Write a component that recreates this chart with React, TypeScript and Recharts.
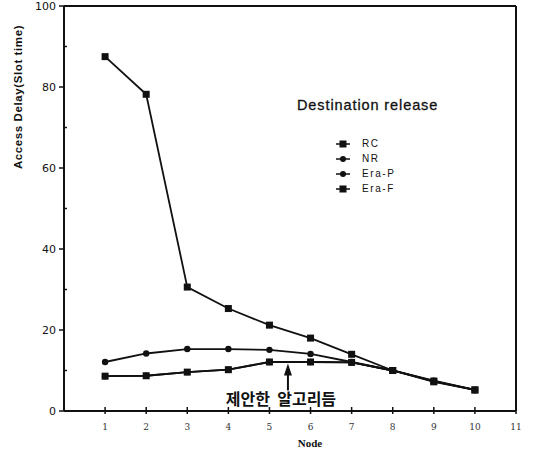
import {
  LineChart,
  Line,
  XAxis,
  YAxis,
  ReferenceLine,
  ReferenceDot,
} from "recharts";

const nodes = [1, 2, 3, 4, 5, 6, 7, 8, 9, 10];
const rcDelay = [87.5, 78.2, 30.6, 25.3, 21.2, 18.0, 14.0, 10.0, 7.4, 5.2];
const nrDelay = [12.1, 14.2, 15.3, 15.3, 15.1, 14.1, 12.1, 10.0, 7.5, 5.2];
const eraPDelay = [8.6, 8.7, 9.6, 10.2, 12.1, 12.1, 12.0, 10.0, 7.3, 5.2];
const eraFDelay = [8.6, 8.7, 9.6, 10.2, 12.1, 12.1, 12.0, 10.0, 7.2, 5.2];

const xTicks = [1, 2, 3, 4, 5, 6, 7, 8, 9, 10, 11];
const yTicks = [0, 10, 20, 30, 40, 50, 60, 70, 80, 90, 100];
const yLabelled = [0, 20, 40, 60, 80, 100];

const seriesNames = ["RC", "NR", "Era-P", "Era-F"];
const legendTitle = "Destination release";
const noteText = "제안한  알고리듬";
const noteAt = { x: 5.45, y: 12 };

const data = nodes.map((n, i) => ({
  node: n,
  RC: rcDelay[i],
  NR: nrDelay[i],
  "Era-P": eraPDelay[i],
  "Era-F": eraFDelay[i],
}));

const INK = "#111";

function SquareDot(props: any) {
  const { cx, cy, index } = props;
  if (cx == null || cy == null) return <g key={index} />;
  return <rect key={index} x={cx - 3.5} y={cy - 3.5} width={7} height={7} fill={INK} />;
}

function RoundDot(props: any) {
  const { cx, cy, index } = props;
  if (cx == null || cy == null) return <g key={index} />;
  return <circle key={index} cx={cx} cy={cy} r={3.2} fill={INK} />;
}

function YTick(props: any) {
  const { x, y, payload } = props;
  const v = payload.value;
  const major = yLabelled.includes(v);
  // axis line sits tickSize + tickMargin to the right of the text anchor
  const ax = x + 7;
  return (
    <g>
      {major ? (
        <>
          <line x1={ax - 5} x2={ax} y1={y} y2={y} stroke={INK} strokeWidth={1.5} />
          <text x={x - 1} y={y} dy={4} textAnchor="end" fontSize={11} fill={INK} fontFamily="DejaVu Sans">
            {v}
          </text>
        </>
      ) : (
        <line x1={ax} x2={ax + 3} y1={y} y2={y} stroke={INK} strokeWidth={1.5} />
      )}
    </g>
  );
}

function XTick(props: any) {
  const { x, y, payload } = props;
  const ay = y - 8;
  return (
    <g>
      <line x1={x} x2={x} y1={ay - 4} y2={ay + 3} stroke={INK} strokeWidth={1.5} />
      <text x={x} y={ay + 19} textAnchor="middle" fontSize={9} fill="#333" fontFamily="DejaVu Serif">
        {payload.value}
      </text>
    </g>
  );
}

function LegendBox() {
  return (
    <div
      style={{
        position: "absolute",
        left: 297,
        top: 97,
        width: 170,
        fontFamily: "Liberation Sans, Arial, sans-serif",
        color: INK,
      }}
    >
      <div style={{ fontSize: 14.5, letterSpacing: 0.9, marginBottom: 23, WebkitTextStroke: "0.3px #111" }}>
        {legendTitle}
      </div>
      {seriesNames.map((name, i) => (
        <div key={name} style={{ display: "flex", alignItems: "center", height: 15, marginLeft: 39 }}>
          <svg width={14} height={10} style={{ marginRight: 12 }}>
            <line x1={0} x2={14} y1={5} y2={5} stroke={INK} strokeWidth={1.5} />
            {i === 0 || i === 3 ? (
              <rect x={3.5} y={1.5} width={7} height={7} fill={INK} />
            ) : (
              <circle cx={7} cy={5} r={3} fill={INK} />
            )}
          </svg>
          <span style={{ fontSize: 10, letterSpacing: 1.6 }}>{name}</span>
        </div>
      ))}
    </div>
  );
}

function NoteLabel(props: any) {
  const { viewBox } = props;
  const cx = viewBox.x + viewBox.width / 2;
  const cy = viewBox.y + viewBox.height / 2;
  return (
    <g>
      <line x1={cx} x2={cx} y1={cy + 12} y2={cy + 28} stroke={INK} strokeWidth={2} />
      <polygon points={`${cx},${cy + 1} ${cx - 4},${cy + 13} ${cx + 4},${cy + 13}`} fill={INK} />
      <text
        x={cx - 7}
        y={cy + 43}
        textAnchor="middle"
        fontSize={16}
        fontWeight={600}
        fill={INK}
        fontFamily="Noto Sans CJK KR"
        style={{ whiteSpace: "pre" }}
      >
        {noteText}
      </text>
    </g>
  );
}

function YTitle() {
  return (
    <text
      x={18}
      y={97}
      transform="rotate(-90, 18, 97)"
      textAnchor="middle"
      dominantBaseline="central"
      fontSize={11.5}
      fontWeight={700}
      letterSpacing={0.6}
      fill={INK}
      fontFamily="Liberation Sans, Arial, sans-serif"
    >
      Access Delay(Slot time)
    </text>
  );
}

export default function App() {
  return (
    <div style={{ position: "absolute", left: 0, top: 0, width: 533, height: 453, background: "#fff" }}>
      <LineChart width={533} height={453} data={data} margin={{ top: 6, right: 17, bottom: 12, left: 0 }}>
        <XAxis
          dataKey="node"
          type="number"
          domain={[0, 11]}
          ticks={xTicks}
          allowDataOverflow
          height={30}
          stroke={INK}
          strokeWidth={2}
          tickLine={false}
          tick={<XTick />}
          label={{
            value: "Node",
            position: "insideBottom",
            offset: -6,
            fontSize: 11,
            fontWeight: 700,
            fill: INK,
            fontFamily: "Liberation Serif, serif",
            dx: 20,
          }}
        />
        <YAxis
          type="number"
          domain={[0, 100]}
          ticks={yTicks}
          interval={0}
          width={64}
          stroke={INK}
          strokeWidth={2}
          tickLine={false}
          tickSize={5}
          tick={<YTick />}
          label={<YTitle />}
        />
        <ReferenceLine y={100} stroke={INK} strokeWidth={2} />
        <ReferenceLine x={11} stroke={INK} strokeWidth={2} />
        <Line dataKey="RC" stroke={INK} strokeWidth={1.8} dot={<SquareDot />} isAnimationActive={false} />
        <Line dataKey="NR" stroke={INK} strokeWidth={1.8} dot={<RoundDot />} isAnimationActive={false} />
        <Line dataKey="Era-P" stroke={INK} strokeWidth={1.8} dot={<RoundDot />} isAnimationActive={false} />
        <Line dataKey="Era-F" stroke={INK} strokeWidth={1.8} dot={<SquareDot />} isAnimationActive={false} />
        <ReferenceDot x={noteAt.x} y={noteAt.y} r={0} label={<NoteLabel />} />
      </LineChart>
      <LegendBox />
    </div>
  );
}
